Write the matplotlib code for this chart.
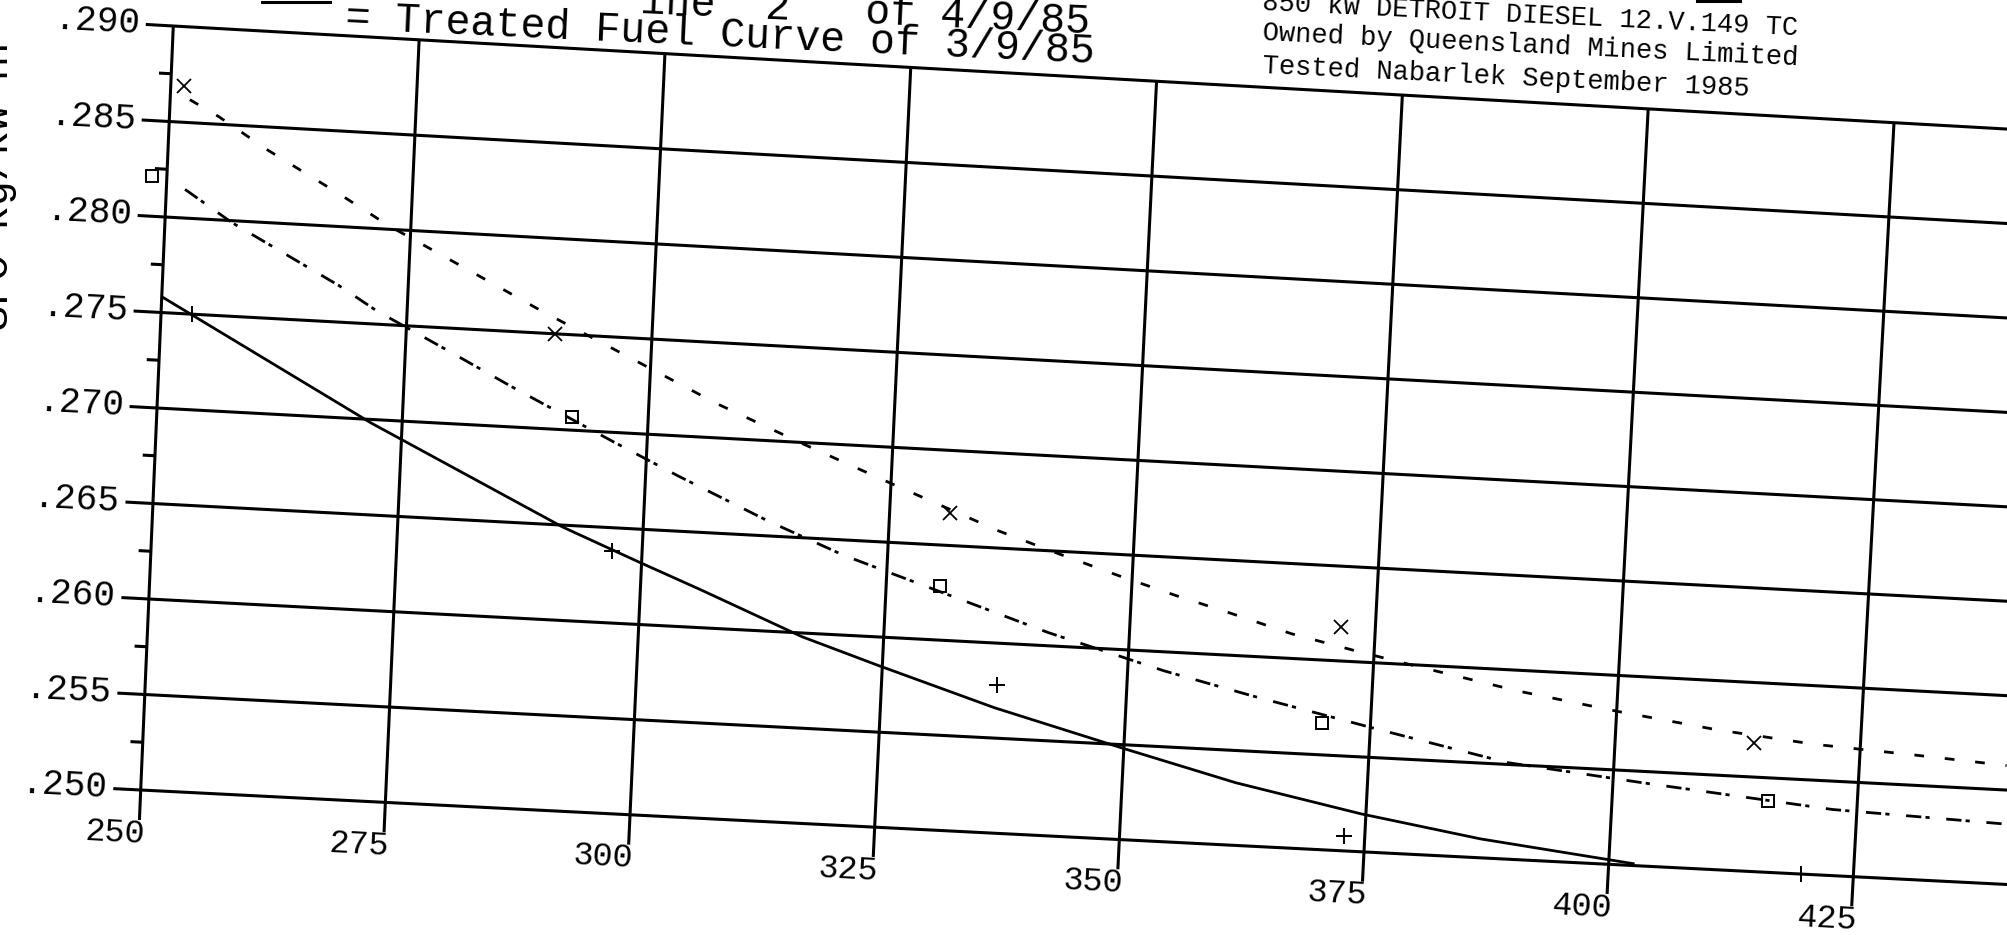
"""Rebuild the scanned Nabarlek fuel-curve sheet as out.png."""
import numpy as np
import matplotlib
matplotlib.use("Agg")
import matplotlib.pyplot as plt
import matplotlib.transforms as mtransforms

W, H = 2007, 935
plt.rcParams["lines.scale_dashes"] = False

# axes
x_ticks = [250, 275, 300, 325, 350, 375, 400, 425]
x_tick_labels = ["250", "275", "300", "325", "350", "375", "400", "425"]
y_ticks = [0.250, 0.255, 0.260, 0.265, 0.270, 0.275, 0.280, 0.285, 0.290]
y_tick_labels = [".250", ".255", ".260", ".265", ".270", ".275", ".280", ".285", ".290"]
y_minor = [0.2525, 0.2575, 0.2625, 0.2675, 0.2725, 0.2775, 0.2825, 0.2875]

# "x" series: fitted curve (dashed) and test points
x_curve_kw = [252.0, 255.0, 260.1, 267.6, 272.7, 283.4, 288.5, 306.9, 316.0, 325.5,
              336.2, 342.2, 348.5, 354.5, 360.3, 366.5, 372.9, 379.7, 389.9, 400.1,
              410.3, 420.3, 430.7, 440.0]
x_curve_sfc = [0.2862, 0.2854, 0.2838, 0.2817, 0.2802, 0.2775, 0.2762, 0.2718, 0.2699, 0.2680,
               0.2659, 0.2649, 0.2639, 0.2630, 0.2622, 0.2613, 0.2606, 0.2599, 0.2589, 0.2581,
               0.2574, 0.2569, 0.2566, 0.2563]
x_pts_kw = [251.3, 290.1, 331.1, 371.5, 414.2]
x_pts_sfc = [0.2869, 0.2750, 0.2667, 0.2618, 0.2568]

# square series: fitted curve (dash-dot) and test points
sq_curve_kw = [251.9, 256.8, 268.0, 271.9, 279.4, 286.0, 296.6, 303.3, 312.6, 320.5,
               341.7, 353.7, 363.0, 375.8, 389.1, 403.0, 422.5, 440.0]
sq_curve_sfc = [0.2815, 0.2799, 0.2769, 0.2757, 0.2738, 0.2721, 0.2695, 0.2679, 0.2658, 0.2642,
                0.2607, 0.2590, 0.2579, 0.2565, 0.2551, 0.2544, 0.2535, 0.2532]
sq_pts_kw = [248.5, 292.2, 330.5, 370.1, 415.9]
sq_pts_sfc = [0.2821, 0.2707, 0.26285, 0.2567, 0.2538]

# "+" series: fitted curve (solid) and test points
pl_curve_kw = [250.1, 271.9, 291.8, 299.6, 306.1, 316.7, 324.6, 336.6, 350.0, 361.6,
               374.5, 386.8, 402.5]
pl_curve_sfc = [0.2758, 0.2698, 0.2649, 0.2633, 0.2620, 0.2598, 0.2585, 0.2566, 0.2548, 0.2533,
                0.2520, 0.2510, 0.2501]
pl_pts_kw = [253.2, 296.9, 336.8, 372.9, 419.7]
pl_pts_sfc = [0.2750, 0.2638, 0.2578, 0.2508, 0.2500]

# where the grid corners landed on the scan (px from top-left): 250/.250, 425/.250, 250/.290, 425/.290
SHEET = [(140.7, 790.0), (1853.3, 876.7), (173.3, 26.0), (1894.0, 122.7)]
INK = "black"
MONO = "Liberation Mono"


class SheetWarp(mtransforms.Transform):
    """Bilinear map from the axes unit box onto the slightly skewed scanned grid."""
    input_dims = output_dims = 2
    has_inverse = False

    def __init__(self, corners):
        super().__init__()
        self.pts = [np.array([x, H - y], float) for x, y in corners]

    def transform_non_affine(self, values):
        values = np.asarray(values, float).reshape(-1, 2)
        u, v = values[:, :1], values[:, 1:]
        ll, lr, ul, ur = self.pts
        return (1 - u) * (1 - v) * ll + u * (1 - v) * lr + (1 - u) * v * ul + u * v * ur


fig = plt.figure(figsize=(W / 100, H / 100), dpi=100)
fig.patch.set_facecolor("white")
ax = fig.add_axes([0, 0, 1, 1])
ax.set_axis_off()
ax.set_xlim(x_ticks[0], x_ticks[-1])
ax.set_ylim(y_ticks[0], y_ticks[-1])
sheet = ax.transScale + ax.transLimits + SheetWarp(SHEET)
page = mtransforms.Affine2D().scale(1, -1).translate(0, H)

# grid
for xt in x_ticks:
    ax.plot([xt, xt], [y_ticks[0] - 0.00157, y_ticks[-1]], transform=sheet,
            color=INK, lw=2.2, clip_on=False, solid_capstyle="butt")
for yt in y_ticks:
    ax.plot([x_ticks[0] - 2.8, 450], [yt, yt], transform=sheet,
            color=INK, lw=2.2, clip_on=False, solid_capstyle="butt")
for ym in y_minor:
    ax.plot([x_ticks[0] - 1.25, x_ticks[0]], [ym, ym], transform=sheet,
            color=INK, lw=2.2, clip_on=False, solid_capstyle="butt")

for xt, lab in zip(x_ticks, x_tick_labels):
    ax.text(xt + 0.6, y_ticks[0] - 0.0015, lab, transform=sheet, ha="right", va="top",
            rotation=-3, rotation_mode="anchor", family=MONO, fontsize=24, color=INK)
for yt, lab in zip(y_ticks, y_tick_labels):
    ax.text(x_ticks[0] - 3.4, yt, lab, transform=sheet, ha="right", va="center",
            rotation=-3, rotation_mode="anchor", family=MONO, fontsize=26, color=INK)

# curves
ax.plot(x_curve_kw, x_curve_sfc, transform=sheet, color=INK, lw=2.0,
        dashes=(7, 15), clip_on=False)
ax.plot(sq_curve_kw, sq_curve_sfc, transform=sheet, color=INK, lw=2.0,
        dashes=(11, 3, 3, 12), clip_on=False)
ax.plot(pl_curve_kw, pl_curve_sfc, transform=sheet, color=INK, lw=2.0, clip_on=False)

ax.plot(x_pts_kw, x_pts_sfc, "x", transform=sheet, color=INK, ms=10, mew=1.3, clip_on=False)
ax.plot(sq_pts_kw, sq_pts_sfc, "s", transform=sheet, mec=INK, mfc="none", ms=8.5,
        mew=1.4, clip_on=False)
ax.plot(pl_pts_kw, pl_pts_sfc, "+", transform=sheet, color=INK, ms=11, mew=1.4, clip_on=False)

# heading, cut off by the top of the scan
ax.plot([262, 330], [1.5, 1.5], transform=page, color=INK, lw=2.2, clip_on=False)
ax.plot([1697, 1740], [1.0, 1.0], transform=page, color=INK, lw=2.2, clip_on=False)
ax.text(640, 13, "ine  2   of 4/9/85", transform=page, ha="left", va="baseline",
        rotation=-2.6, rotation_mode="anchor", family=MONO, fontsize=30, color=INK)
ax.text(345, 29, "= Treated Fuel Curve of 3/9/85", transform=page, ha="left", va="baseline",
        rotation=-2.6, rotation_mode="anchor", family=MONO, fontsize=30, color=INK)

block = ["850 kW DETROIT DIESEL 12.V.149 TC",
         "Owned by Queensland Mines Limited",
         "Tested Nabarlek September 1985"]
for line, y0 in zip(block, [10, 40, 73]):
    ax.text(1262, y0, line, transform=page, ha="left", va="baseline",
            rotation=-2.7, rotation_mode="anchor", family=MONO, fontsize=19.5, color=INK)

# y-axis title, almost entirely off the left edge
ax.text(8, 330, "SFC kg/kW hr", transform=page, ha="left", va="baseline",
        rotation=90, rotation_mode="anchor", family=MONO, fontsize=30, color=INK)

fig.savefig("out.png", dpi=100, facecolor="white")
